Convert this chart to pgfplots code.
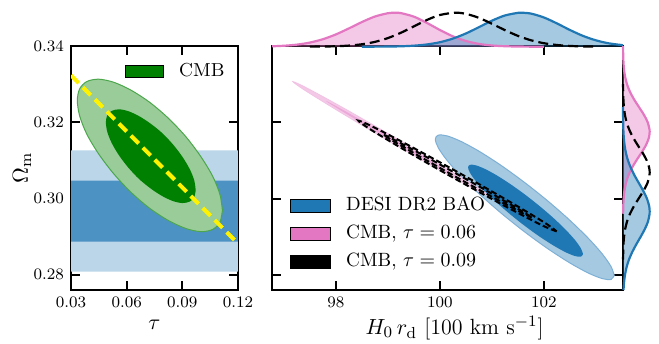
\documentclass[border=0pt]{standalone}
\usepackage{pgfplots}
\pgfplotsset{compat=1.18}
\definecolor{desiblue}{HTML}{1F77B4}
\definecolor{desiouter}{HTML}{A5C9E1}
\definecolor{desiedge}{HTML}{7DB0D6}
\definecolor{bandlight}{HTML}{BCD6E9}
\definecolor{banddark}{HTML}{4C92C3}
\definecolor{cmbpink}{HTML}{E377C2}
\definecolor{pinklight}{HTML}{F4C9E7}
\definecolor{pinkmid}{HTML}{ECA8D8}
\definecolor{cmbgreen}{HTML}{008000}
\definecolor{greenlight}{HTML}{99CC99}
\definecolor{cmbyellow}{HTML}{FFF200}
\begin{document}
\begin{tikzpicture}
\useasboundingbox (0,0) rectangle (329.5pt,171.5pt);
\pgfplotsset{
  mystyle/.style={scale only axis, anchor=south west,
    axis line style={line width=1.2pt},
    tick align=inside, major tick length=4.5pt,
    every tick/.style={black, line width=1pt},
    tick label style={font=\fontsize{8.5}{9}\selectfont},
    label style={font=\fontsize{11}{13}\selectfont},
    scaled ticks=false},
}
% ---------------- left panel ----------------
\begin{axis}[mystyle, at={(35.5pt,26.5pt)}, width=83.5pt, height=122pt,
  xmin=0.03, xmax=0.12, ymin=0.276, ymax=0.34,
  xtick={0.03,0.06,0.09,0.12}, ytick={0.28,0.30,0.32,0.34},
  xticklabel={\pgfmathprintnumber[fixed,fixed zerofill,precision=2]{\tick}},
  yticklabel={\pgfmathprintnumber[fixed,fixed zerofill,precision=2]{\tick}},
  xlabel={$\tau$}, ylabel={$\Omega_{\rm m}$},
  xlabel style={at={(axis description cs:0.5,-0.143)}, anchor=center},
  ylabel style={at={(axis description cs:-0.293,0.5)}, anchor=center},
  legend image code/.code={\fill[#1] (0pt,-3pt) rectangle (19pt,3pt);},
  legend style={draw=none, fill=none, at={(0.323,0.931)}, anchor=north west,
    inner sep=0pt, font=\fontsize{9.4}{10}\selectfont,
    nodes={inner sep=0pt, text height=6.6pt, text depth=1.9pt},
    /tikz/every odd column/.append style={column sep=7.5pt}},
]
\addplot[forget plot, fill=bandlight, draw=none] coordinates {(0.03,0.2808) (0.12,0.2808) (0.12,0.3126) (0.03,0.3126) (0.03,0.2808)};
\addplot[forget plot, fill=banddark, draw=none] coordinates {(0.03,0.2887) (0.12,0.2887) (0.12,0.3047) (0.03,0.3047) (0.03,0.2887)};
\addplot[forget plot, smooth, fill=greenlight, draw=cmbgreen!70, line width=0.5pt] coordinates {
(0.1116,0.2969) (0.1103,0.3010) (0.1064,0.3058) (0.1001,0.3109) (0.0921,0.3161) (0.0826,0.3210) (0.0725,0.3252) (0.0624,0.3284) (0.0530,0.3305) (0.0449,0.3313) (0.0386,0.3307) (0.0347,0.3288) (0.0334,0.3257) (0.0347,0.3216) (0.0386,0.3168) (0.0449,0.3117) (0.0530,0.3065) (0.0624,0.3016) (0.0725,0.2974) (0.0826,0.2942) (0.0921,0.2921) (0.1001,0.2913) (0.1064,0.2919) (0.1103,0.2938) (0.1116,0.2969)};
\addplot[forget plot, smooth, fill=cmbgreen, draw=none] coordinates {
(0.0972,0.3022) (0.0964,0.3048) (0.0940,0.3077) (0.0901,0.3109) (0.0851,0.3141) (0.0793,0.3171) (0.0730,0.3196) (0.0667,0.3216) (0.0609,0.3229) (0.0559,0.3234) (0.0520,0.3230) (0.0496,0.3219) (0.0488,0.3200) (0.0496,0.3174) (0.0520,0.3145) (0.0559,0.3113) (0.0609,0.3081) (0.0667,0.3051) (0.0730,0.3026) (0.0793,0.3006) (0.0851,0.2993) (0.0901,0.2988) (0.0940,0.2992) (0.0964,0.3003) (0.0972,0.3022)};
\addplot[forget plot, cmbyellow, line width=2pt, dash pattern=on 5.5pt off 3pt] coordinates {(0.03,0.3323) (0.12,0.2882)};
\addlegendimage{fill=cmbgreen}
\addlegendentry{CMB}
\end{axis}
% ---------------- right panel ----------------
\begin{axis}[mystyle, at={(136pt,26.5pt)}, width=175.5pt, height=122pt,
  xmin=96.77, xmax=103.52, ymin=0.276, ymax=0.34,
  xtick={98,100,102}, ytick={0.28,0.30,0.32,0.34}, yticklabels={,,,},
  xlabel={$H_0\,r_{\rm d}$ [100 km s$^{-1}$]},
  xlabel style={at={(axis description cs:0.52,-0.156)}, anchor=center},
  legend image code/.code={\fill[#1] (0pt,-3.25pt) rectangle (20pt,3.25pt);},
  legend style={draw=none, fill=none, at={(0.0513,0.08)}, anchor=south west,
    inner sep=0pt, font=\fontsize{9.6}{10}\selectfont,
    nodes={inner sep=0pt, text height=6.6pt, text depth=1.9pt},
    row sep=5.5pt,
    /tikz/every odd column/.append style={column sep=7.5pt}},
  legend cell align=left,
]
\addplot[forget plot, smooth, fill=desiouter, draw=desiedge, line width=0.5pt] coordinates {
(103.350,0.27984) (103.291,0.28213) (103.120,0.28548) (102.846,0.28966) (102.490,0.29438) (102.075,0.29934) (101.630,0.30418) (101.185,0.30859) (100.770,0.31225) (100.414,0.31491) (100.141,0.31641) (99.969,0.31663) (99.910,0.31556) (99.969,0.31327) (100.141,0.30992) (100.414,0.30575) (100.770,0.30102) (101.185,0.29606) (101.630,0.29122) (102.075,0.28682) (102.490,0.28316) (102.846,0.28049) (103.120,0.27899) (103.291,0.27877) (103.350,0.27984)};
\addplot[forget plot, smooth, fill=desiblue, draw=none] coordinates {
(102.750,0.28543) (102.712,0.28688) (102.602,0.28902) (102.426,0.29168) (102.198,0.29469) (101.931,0.29784) (101.645,0.30093) (101.359,0.30373) (101.093,0.30606) (100.864,0.30776) (100.688,0.30871) (100.578,0.30885) (100.540,0.30817) (100.578,0.30672) (100.688,0.30459) (100.864,0.30192) (101.093,0.29891) (101.359,0.29576) (101.645,0.29267) (101.931,0.28987) (102.198,0.28754) (102.426,0.28584) (102.602,0.28489) (102.712,0.28475) (102.750,0.28543)};
\addplot[forget plot, smooth, fill=pinklight, draw=cmbpink!45, line width=0.4pt] coordinates {
(100.961,0.30053) (100.693,0.30221) (99.989,0.30747) (99.038,0.31490) (98.095,0.32253) (97.413,0.32829) (97.173,0.33065) (97.442,0.32897) (98.149,0.32371) (99.096,0.31628) (100.039,0.30865) (100.722,0.30289) (100.961,0.30053)};
\addplot[forget plot, smooth, fill=pinkmid, draw=none] coordinates {
(100.332,0.30553) (100.157,0.30674) (99.690,0.31032) (99.055,0.31532) (98.425,0.32038) (97.966,0.32416) (97.802,0.32565) (97.977,0.32444) (98.445,0.32086) (99.079,0.31586) (99.710,0.31080) (100.168,0.30702) (100.332,0.30553)};
\addplot[forget plot, smooth, black, line width=1pt, dash pattern=on 3pt off 1.5pt] coordinates {
(102.244,0.29137) (101.972,0.29291) (101.262,0.29793) (100.304,0.30508) (99.355,0.31245) (98.669,0.31807) (98.430,0.32042) (98.702,0.31888) (99.412,0.31385) (100.370,0.30670) (101.319,0.29933) (102.005,0.29372) (102.244,0.29137)};
\addplot[forget plot, smooth, black, line width=1pt, dash pattern=on 3pt off 1.5pt] coordinates {
(101.766,0.29500) (101.568,0.29629) (101.040,0.30015) (100.323,0.30554) (99.610,0.31103) (99.092,0.31515) (98.908,0.31678) (99.106,0.31549) (99.634,0.31168) (100.351,0.30624) (101.064,0.30075) (101.582,0.29663) (101.766,0.29500)};
\addlegendimage{fill=desiblue}
\addlegendentry{DESI DR2 BAO}
\addlegendimage{fill=cmbpink}
\addlegendentry{CMB, $\tau=0.06$}
\addlegendimage{fill=black}
\addlegendentry{CMB, $\tau=0.09$}
\end{axis}
% ---------------- top marginal ----------------
\begin{axis}[scale only axis, anchor=south west, at={(136pt,148.15pt)}, width=175.5pt, height=23.35pt,
  xmin=96.77, xmax=103.52, ymin=0, ymax=1.374, hide axis, clip=false]
\addplot[smooth, fill=cmbpink, fill opacity=0.4, draw=none] coordinates {
(96.77,0.012) (97.0,0.028) (97.25,0.061) (97.5,0.122) (97.75,0.221) (98.0,0.362) (98.25,0.539) (98.5,0.726) (98.75,0.888) (99.0,0.985) (99.14,1.0) (99.25,0.988) (99.5,0.883) (99.75,0.699) (100.0,0.490) (100.25,0.304) (100.5,0.168) (100.75,0.082) (101.0,0.036) (101.25,0.014) (101.5,0.005) (101.75,0.001) (102.0,0.0)} \closedcycle;
\addplot[smooth, fill=desiblue, fill opacity=0.4, draw=none] coordinates {
(98.5,0.0) (98.75,0.0015) (99.0,0.004) (99.25,0.012) (99.5,0.030) (99.75,0.066) (100.0,0.132) (100.25,0.239) (100.5,0.390) (100.75,0.575) (101.0,0.766) (101.25,0.919) (101.5,0.996) (101.57,1.0) (101.75,0.974) (102.0,0.859) (102.25,0.684) (102.5,0.491) (102.75,0.318) (103.0,0.187) (103.25,0.098) (103.52,0.044)} \closedcycle;
\addplot[smooth, cmbpink, line width=1.1pt] coordinates {
(96.77,0.012) (97.0,0.028) (97.25,0.061) (97.5,0.122) (97.75,0.221) (98.0,0.362) (98.25,0.539) (98.5,0.726) (98.75,0.888) (99.0,0.985) (99.14,1.0) (99.25,0.988) (99.5,0.883) (99.75,0.699) (100.0,0.490) (100.25,0.304) (100.5,0.168) (100.75,0.082) (101.0,0.036) (101.25,0.014) (101.5,0.005) (101.75,0.001) (102.0,0.0)};
\addplot[smooth, desiblue, line width=1.1pt] coordinates {
(98.5,0.0) (98.75,0.0015) (99.0,0.004) (99.25,0.012) (99.5,0.030) (99.75,0.066) (100.0,0.132) (100.25,0.239) (100.5,0.390) (100.75,0.575) (101.0,0.766) (101.25,0.919) (101.5,0.996) (101.57,1.0) (101.75,0.974) (102.0,0.859) (102.25,0.684) (102.5,0.491) (102.75,0.318) (103.0,0.187) (103.25,0.098) (103.52,0.044)};
\addplot[smooth, black, line width=1.1pt, dash pattern=on 5pt off 2.5pt] coordinates {
(97.5,0.002) (97.75,0.005) (98.0,0.013) (98.25,0.033) (98.5,0.072) (98.75,0.142) (99.0,0.255) (99.25,0.411) (99.5,0.599) (99.75,0.787) (100.0,0.933) (100.29,1.0) (100.5,0.966) (100.75,0.848) (101.0,0.674) (101.25,0.487) (101.5,0.318) (101.75,0.189) (102.0,0.102) (102.25,0.050) (102.5,0.022) (102.75,0.009) (103.0,0.003)};
\end{axis}
% ---------------- right marginal ----------------
\begin{axis}[scale only axis, anchor=south west, at={(311.5pt,26.5pt)}, width=18pt, height=122pt,
  xmin=0, xmax=1.35, ymin=0.276, ymax=0.34, hide axis, clip=false]
\addplot[smooth, fill=cmbpink, fill opacity=0.4, draw=none] coordinates {
(0,0.294) (0.0036,0.296) (0.0096,0.298) (0.024,0.300) (0.053,0.302) (0.108,0.304) (0.199,0.306) (0.332,0.308) (0.503,0.310) (0.691,0.312) (0.861,0.314) (0.973,0.316) (1.0,0.3175) (0.997,0.318) (0.926,0.320) (0.781,0.322) (0.597,0.324) (0.414,0.326) (0.26,0.328) (0.149,0.330) (0.077,0.332) (0.036,0.334) (0.015,0.336) (0.006,0.338) (0.002,0.340) (0,0.340)};
\addplot[smooth, fill=desiblue, fill opacity=0.4, draw=none] coordinates {
(0,0.276) (0.019,0.276) (0.039,0.278) (0.075,0.280) (0.135,0.282) (0.225,0.284) (0.349,0.286) (0.50,0.288) (0.665,0.290) (0.820,0.292) (0.939,0.294) (0.997,0.296) (1.0,0.2966) (0.982,0.298) (0.897,0.300) (0.760,0.302) (0.598,0.304) (0.436,0.306) (0.295,0.308) (0.185,0.310) (0.108,0.312) (0.058,0.314) (0.029,0.316) (0.0136,0.318) (0.006,0.320) (0.0024,0.322) (0.001,0.324) (0,0.326)};
\addplot[smooth, cmbpink, line width=1.1pt] coordinates {
(0.0036,0.296) (0.0096,0.298) (0.024,0.300) (0.053,0.302) (0.108,0.304) (0.199,0.306) (0.332,0.308) (0.503,0.310) (0.691,0.312) (0.861,0.314) (0.973,0.316) (1.0,0.3175) (0.997,0.318) (0.926,0.320) (0.781,0.322) (0.597,0.324) (0.414,0.326) (0.26,0.328) (0.149,0.330) (0.077,0.332) (0.036,0.334) (0.015,0.336) (0.006,0.338) (0.002,0.340)};
\addplot[smooth, desiblue, line width=1.1pt] coordinates {
(0.019,0.276) (0.039,0.278) (0.075,0.280) (0.135,0.282) (0.225,0.284) (0.349,0.286) (0.50,0.288) (0.665,0.290) (0.820,0.292) (0.939,0.294) (0.997,0.296) (1.0,0.2966) (0.982,0.298) (0.897,0.300) (0.760,0.302) (0.598,0.304) (0.436,0.306) (0.295,0.308) (0.185,0.310) (0.108,0.312) (0.058,0.314) (0.029,0.316) (0.0136,0.318) (0.006,0.320) (0.0024,0.322) (0.001,0.324)};
\addplot[smooth, black, line width=1.1pt, dash pattern=on 5pt off 2.5pt] coordinates {
(0.002,0.284) (0.007,0.286) (0.017,0.288) (0.039,0.290) (0.081,0.292) (0.153,0.294) (0.262,0.296) (0.411,0.298) (0.588,0.300) (0.768,0.302) (0.914,0.304) (0.993,0.306) (1.0,0.3068) (0.984,0.308) (0.889,0.310) (0.733,0.312) (0.551,0.314) (0.378,0.316) (0.237,0.318) (0.135,0.320) (0.071,0.322) (0.034,0.324) (0.0145,0.326) (0.006,0.328) (0.002,0.330)};
\end{axis}
\end{tikzpicture}
\end{document}
